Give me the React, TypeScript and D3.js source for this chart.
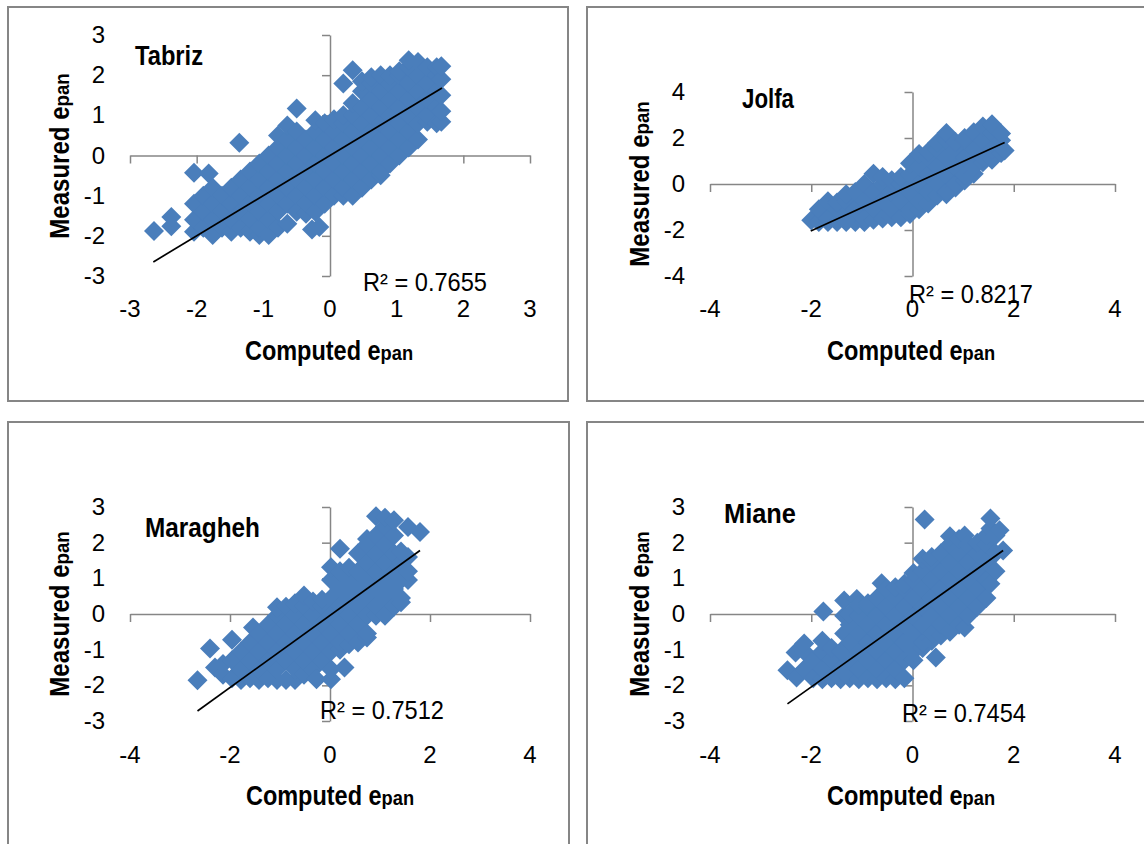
import { useEffect, useRef } from 'react'
import * as d3 from 'd3'

const FONT = '"Liberation Sans", sans-serif'
const POINT_BLUE = '#4a7ebb'
const AXIS_GREY = '#868686'

// Points, grouped per computed value: [computed, [measured...]]
const tabrizPoints: [number, number[]][] = [
  [-2.64, [-1.88]],
  [-2.38, [-1.76, -1.53]],
  [-2.04, [-1.9, -1.6, -1.2, -0.43]],
  [-1.9, [-1.8, -1.4, -1.0]],
  [-1.82, [-0.45]],
  [-1.76, [-1.98, -1.6, -1.2, -0.8]],
  [-1.62, [-1.8, -1.4, -1.0]],
  [-1.48, [-1.9, -1.6, -1.2, -0.8]],
  [-1.36, [0.32]],
  [-1.34, [-1.8, -1.4, -1.0, -0.6]],
  [-1.2, [-1.9, -1.6, -1.2, -0.8, -0.4]],
  [-1.06, [-1.98, -1.8, -1.4, -1.0, -0.6, -0.2]],
  [-0.92, [-1.98, -1.6, -1.2, -0.8, -0.4, 0]],
  [-0.78, [-1.8, -1.4, -1.0, -0.6, -0.2, 0.2, 0.5]],
  [-0.64, [-1.7, -1.2, -0.8, -0.4, 0, 0.4, 0.75]],
  [-0.5, [-1.4, -1.0, -0.6, -0.2, 0.2, 0.6, 1.17]],
  [-0.36, [-1.45, -1.2, -0.8, -0.4, 0, 0.4]],
  [-0.27, [-1.84]],
  [-0.22, [-1.4, -1.0, -0.6, -0.2, 0.2, 0.6, 0.88]],
  [-0.16, [-1.78]],
  [-0.08, [-1.2, -0.8, -0.4, 0, 0.4, 0.8]],
  [0.06, [-1.0, -0.6, -0.2, 0.2, 0.6, 0.9]],
  [0.2, [-1.0, -0.8, -0.4, 0, 0.4, 0.8, 1.0, 1.79]],
  [0.34, [-1.0, -0.6, -0.2, 0.2, 0.6, 1.0, 1.3, 2.12]],
  [0.48, [-0.8, -0.4, 0, 0.4, 0.8, 1.2, 1.6, 1.85]],
  [0.62, [-0.6, -0.2, 0.2, 0.6, 1.0, 1.4, 1.8, 1.95]],
  [0.76, [-0.49, -0.4, 0, 0.4, 0.8, 1.2, 1.6, 2.0]],
  [0.9, [-0.2, 0.2, 0.6, 1.0, 1.4, 1.8, 2.0]],
  [1.04, [0, 0.4, 0.8, 1.2, 1.6, 2.0, 2.1]],
  [1.18, [0.2, 0.6, 1.0, 1.4, 1.8, 2.2, 2.37]],
  [1.32, [0.4, 0.8, 1.2, 1.6, 2.0, 2.33]],
  [1.46, [0.84, 1.0, 1.4, 1.8, 2.2]],
  [1.6, [0.8, 1.2, 1.6, 2.0, 2.2]],
  [1.67, [0.84, 1.1, 1.5, 1.9, 2.22]],
]

const jolfaPoints: [number, number[]][] = [
  [-2.0, [-1.58]],
  [-1.85, [-1.65, -1.1]],
  [-1.67, [-1.65, -1.5, -0.75]],
  [-1.49, [-1.65, -1.1, -0.8]],
  [-1.31, [-1.65, -1.5, -0.75, -0.45]],
  [-1.13, [-1.65, -1.1, -0.35]],
  [-0.95, [-1.65, -1.5, -0.75, 0]],
  [-0.77, [-1.55, -1.1, -0.35, 0.45]],
  [-0.59, [-1.5, -0.75, 0, 0.3]],
  [-0.41, [-1.45, -1.1, -0.35, 0.16]],
  [-0.23, [-1.45, -0.75, 0, 0.3]],
  [-0.05, [-1.3, -1.1, -0.35, 0.4, 0.9]],
  [0.13, [-1.1, -0.75, 0, 0.75, 1.3]],
  [0.31, [-0.85, -0.35, 0.4, 1.15, 1.4]],
  [0.49, [-0.5, 0, 0.75, 1.5, 1.8]],
  [0.67, [-0.45, -0.35, 0.4, 1.15, 1.9, 2.22]],
  [0.85, [-0.15, 0, 0.75, 1.5, 1.83]],
  [1.03, [0.15, 0.4, 1.15, 1.9, 2.0]],
  [1.21, [0.45, 0.75, 1.5, 2.25]],
  [1.39, [0.95, 1.15, 1.9, 2.5]],
  [1.57, [1.05, 1.5, 2.25, 2.6]],
  [1.75, [1.35, 1.9, 2.2]],
  [1.82, [1.46]],
]

const maraghehPoints: [number, number[]][] = [
  [-2.65, [-1.86]],
  [-2.4, [-0.97]],
  [-2.3, [-1.5]],
  [-2.14, [-1.7, -1.4]],
  [-1.96, [-1.8, -1.3, -0.72]],
  [-1.78, [-1.85, -1.55, -1.05]],
  [-1.6, [-1.8, -1.3, -0.8]],
  [-1.54, [-0.38]],
  [-1.42, [-1.85, -1.55, -1.05, -0.55]],
  [-1.24, [-1.8, -1.3, -0.8, -0.3]],
  [-1.06, [-1.85, -1.55, -1.05, -0.55, -0.05, 0.19]],
  [-0.88, [-1.85, -1.3, -0.8, -0.3, 0.2]],
  [-0.7, [-1.85, -1.55, -1.05, -0.55, -0.05, 0.3]],
  [-0.52, [-1.7, -1.3, -0.8, -0.3, 0.2, 0.52]],
  [-0.34, [-1.55, -1.05, -0.55, -0.05, 0.35]],
  [-0.27, [-1.83]],
  [-0.16, [-1.3, -0.8, -0.3, 0.2, 0.4]],
  [0.02, [-1.83, -1.55, -1.05, -0.55, -0.05, 0.45, 0.95, 1.31]],
  [0.2, [-1.0, -0.8, -0.3, 0.2, 0.7, 1.2, 1.83]],
  [0.29, [-1.5]],
  [0.38, [-0.85, -0.55, -0.05, 0.45, 0.95, 1.3]],
  [0.56, [-0.8, -0.3, 0.2, 0.7, 1.2, 1.7]],
  [0.74, [-0.66, -0.55, -0.05, 0.45, 0.95, 1.45, 1.95, 2.1]],
  [0.92, [-0.05, 0.2, 0.7, 1.2, 1.7, 2.2, 2.74]],
  [1.1, [-0.05, 0.45, 0.95, 1.45, 1.95, 2.45, 2.7]],
  [1.28, [0.2, 0.7, 1.2, 1.7, 2.2, 2.63]],
  [1.42, [0.33, 0.45, 0.95, 1.45, 1.75]],
  [1.56, [0.95, 1.2, 1.6, 2.44]],
  [1.8, [2.3]],
]

const mianePoints: [number, number[]][] = [
  [-2.47, [-1.58]],
  [-2.31, [-1.08]],
  [-2.29, [-1.78]],
  [-2.14, [-1.55, -1.05, -0.83]],
  [-1.96, [-1.8, -1.3]],
  [-1.78, [-1.83, -1.55, -1.05, -0.75]],
  [-1.76, [0.07]],
  [-1.6, [-1.8, -1.3, -0.95]],
  [-1.42, [-1.83, -1.55, -1.05]],
  [-1.35, [-0.55, -0.05, 0.38]],
  [-1.24, [-1.8, -1.3, -0.8, -0.3, 0]],
  [-1.1, [0.42]],
  [-1.06, [-1.83, -1.55, -1.05, -0.55, -0.05, 0.25]],
  [-0.88, [-1.8, -1.3, -0.8, -0.3, 0.2, 0.3]],
  [-0.7, [-1.83, -1.55, -1.05, -0.55, -0.05, 0.45]],
  [-0.61, [0.86]],
  [-0.52, [-1.8, -1.3, -0.8, -0.3, 0.2, 0.7]],
  [-0.34, [-1.83, -1.55, -1.05, -0.55, -0.05, 0.45, 0.75]],
  [-0.16, [-1.8, -1.3, -0.8, -0.3, 0.2, 0.7, 0.85]],
  [0.02, [-1.3, -1.05, -0.55, -0.05, 0.45, 0.95, 1.15]],
  [0.2, [-0.95, -0.8, -0.3, 0.2, 0.7, 1.2, 1.55]],
  [0.24, [2.65]],
  [0.38, [-0.75, -0.55, -0.05, 0.45, 0.95, 1.45, 1.6]],
  [0.46, [-1.22]],
  [0.56, [-0.6, -0.3, 0.2, 0.7, 1.2, 1.7]],
  [0.74, [-0.5, -0.05, 0.45, 0.95, 1.45, 1.95, 2.18]],
  [0.92, [-0.3, 0.2, 0.7, 1.2, 1.7, 2.1]],
  [1.03, [-0.38, 2.2]],
  [1.1, [-0.05, 0.45, 0.95, 1.45, 1.95]],
  [1.28, [0.2, 0.7, 1.2, 1.7, 2.0]],
  [1.46, [0.45, 0.95, 1.45, 1.95, 2.2]],
  [1.54, [0.85, 2.4, 2.68]],
  [1.64, [1.2, 1.7, 2.2]],
  [1.72, [2.35]],
  [1.79, [1.78]],
]

const xTicksWide = [-4, -2, 0, 2, 4]
const xTicksNarrow = [-3, -2, -1, 0, 1, 2, 3]
const yTicksWide = [-4, -2, 0, 2, 4]
const yTicksNarrow = [-3, -2, -1, 0, 1, 2, 3]

const tabrizTrend = [[-2.65, -2.65], [1.68, 1.68]]
const jolfaTrend = [[-2.01, -2.04], [1.82, 1.8]]
const maraghehTrend = [[-2.65, -2.72], [1.8, 1.78]]
const mianeTrend = [[-2.47, -2.52], [1.79, 1.78]]

const panels = [
  {
    name: 'Tabriz', points: tabrizPoints, trend: tabrizTrend, r2: 'R² = 0.7655',
    xTicks: xTicksNarrow, yTicks: yTicksNarrow,
    frame: [8, 7, 560, 394], xRange: [130, 530], yRange: [276, 35], tickLabelY: 317,
    namePos: [135, 65], nameWidth: 68, r2Pos: [363, 291], xTitlePos: [329, 360], yTitleX: 69, yTitleMid: 156,
  },
  {
    name: 'Jolfa', points: jolfaPoints, trend: jolfaTrend, r2: 'R² = 0.8217',
    xTicks: xTicksWide, yTicks: yTicksWide,
    frame: [587, 7, 600, 394], xRange: [710, 1115], yRange: [276, 92], tickLabelY: 317,
    namePos: [742, 108], nameWidth: 52, r2Pos: [909, 303], xTitlePos: [911, 360], yTitleX: 649, yTitleMid: 184,
  },
  {
    name: 'Maragheh', points: maraghehPoints, trend: maraghehTrend, r2: 'R² = 0.7512',
    xTicks: xTicksWide, yTicks: yTicksNarrow,
    frame: [8, 422, 561, 440], xRange: [130, 530], yRange: [721, 507], tickLabelY: 763,
    namePos: [145, 537], nameWidth: 115, r2Pos: [320, 719], xTitlePos: [330, 805], yTitleX: 69, yTitleMid: 614,
  },
  {
    name: 'Miane', points: mianePoints, trend: mianeTrend, r2: 'R² = 0.7454',
    xTicks: xTicksWide, yTicks: yTicksNarrow,
    frame: [587, 422, 600, 440], xRange: [710, 1115], yRange: [721, 507], tickLabelY: 763,
    namePos: [724, 523], nameWidth: 72, r2Pos: [902, 722], xTitlePos: [911, 805], yTitleX: 649, yTitleMid: 614,
  },
]

export default function App() {
  const svgRef = useRef<SVGSVGElement>(null)

  useEffect(() => {
    const svg = d3.select(svgRef.current)
    svg.selectAll('*').remove()
    svg.append('rect').attr('width', 1144).attr('height', 844).attr('fill', '#fff')

    const diamond = d3.symbol(d3.symbolDiamond2, 255)()

    panels.forEach(panel => {
      const g = svg.append('g')
      const [fx, fy, fw, fh] = panel.frame

      g.append('rect')
        .attr('x', fx).attr('y', fy).attr('width', fw).attr('height', fh)
        .attr('fill', '#fff').attr('stroke', AXIS_GREY).attr('stroke-width', 2)

      const xDomain = d3.extent(panel.xTicks) as [number, number]
      const yDomain = d3.extent(panel.yTicks) as [number, number]
      const x = d3.scaleLinear().domain(xDomain).range(panel.xRange)
      const y = d3.scaleLinear().domain(yDomain).range(panel.yRange)

      // ── Axes cross at zero, labels sit low ──────────────────────────
      const xAxis = g.append('g')
        .attr('transform', `translate(0,${y(0)})`)
        .call(d3.axisBottom(x).tickValues(panel.xTicks).tickSize(8).tickSizeOuter(0).tickFormat(() => ''))
      const yAxis = g.append('g')
        .attr('transform', `translate(${x(0)},0)`)
        .call(d3.axisLeft(y).tickValues(panel.yTicks).tickSize(8).tickSizeOuter(0).tickFormat(() => ''))
      ;[xAxis, yAxis].forEach(a => {
        a.selectAll('path, line').attr('stroke', AXIS_GREY).attr('stroke-width', 1.5)
      })

      // ── Points ──────────────────────────────────────────────────────
      const flat = panel.points.flatMap(([cx, ys]) => ys.map(v => [cx, v]))
      g.append('g').selectAll('path')
        .data(flat)
        .join('path')
        .attr('d', diamond)
        .attr('transform', d => `translate(${x(d[0])},${y(d[1])})`)
        .attr('fill', POINT_BLUE)

      // ── Trend line ──────────────────────────────────────────────────
      g.append('path')
        .attr('d', d3.line().x(d => x(d[0])).y(d => y(d[1]))(panel.trend as [number, number][]))
        .attr('fill', 'none')
        .attr('stroke', '#000')
        .attr('stroke-width', 1.7)

      // ── Text ────────────────────────────────────────────────────────
      const txt = g.append('g').attr('font-family', FONT).attr('fill', '#000')

      txt.selectAll('text.xt')
        .data(panel.xTicks)
        .join('text')
        .attr('class', 'xt')
        .attr('x', d => x(d))
        .attr('y', panel.tickLabelY)
        .attr('text-anchor', 'middle')
        .attr('font-size', 24)
        .text(d => d)

      txt.selectAll('text.yt')
        .data(panel.yTicks)
        .join('text')
        .attr('class', 'yt')
        .attr('x', panel.xRange[0] - 25)
        .attr('y', d => y(d) + 8)
        .attr('text-anchor', 'end')
        .attr('font-size', 24)
        .text(d => d)

      txt.append('text')
        .attr('x', panel.namePos[0]).attr('y', panel.namePos[1])
        .attr('font-size', 27).attr('font-weight', 700)
        .attr('textLength', panel.nameWidth).attr('lengthAdjust', 'spacingAndGlyphs')
        .text(panel.name)

      txt.append('text')
        .attr('x', panel.r2Pos[0]).attr('y', panel.r2Pos[1])
        .attr('font-size', 25)
        .attr('textLength', 124).attr('lengthAdjust', 'spacingAndGlyphs')
        .text(panel.r2)

      // Condensed by a plain x scale, the font has no narrow cut here
      const axisTitle = (sel: any, label: string) => {
        sel.attr('text-anchor', 'middle').attr('font-weight', 700)
        sel.append('tspan').attr('font-size', 27).text(label + ' e')
        sel.append('tspan').attr('font-size', 21).text('pan')
      }

      txt.append('text')
        .attr('transform', `translate(${panel.xTitlePos[0]},${panel.xTitlePos[1]}) scale(0.87,1)`)
        .call(axisTitle, 'Computed')

      txt.append('text')
        .attr('transform', `translate(${panel.yTitleX},${panel.yTitleMid}) rotate(-90) scale(0.89,1)`)
        .call(axisTitle, 'Measured')
    })
  }, [])

  return <svg ref={svgRef} width={1144} height={844} style={{ position: 'absolute', left: 0, top: 0 }} />
}
